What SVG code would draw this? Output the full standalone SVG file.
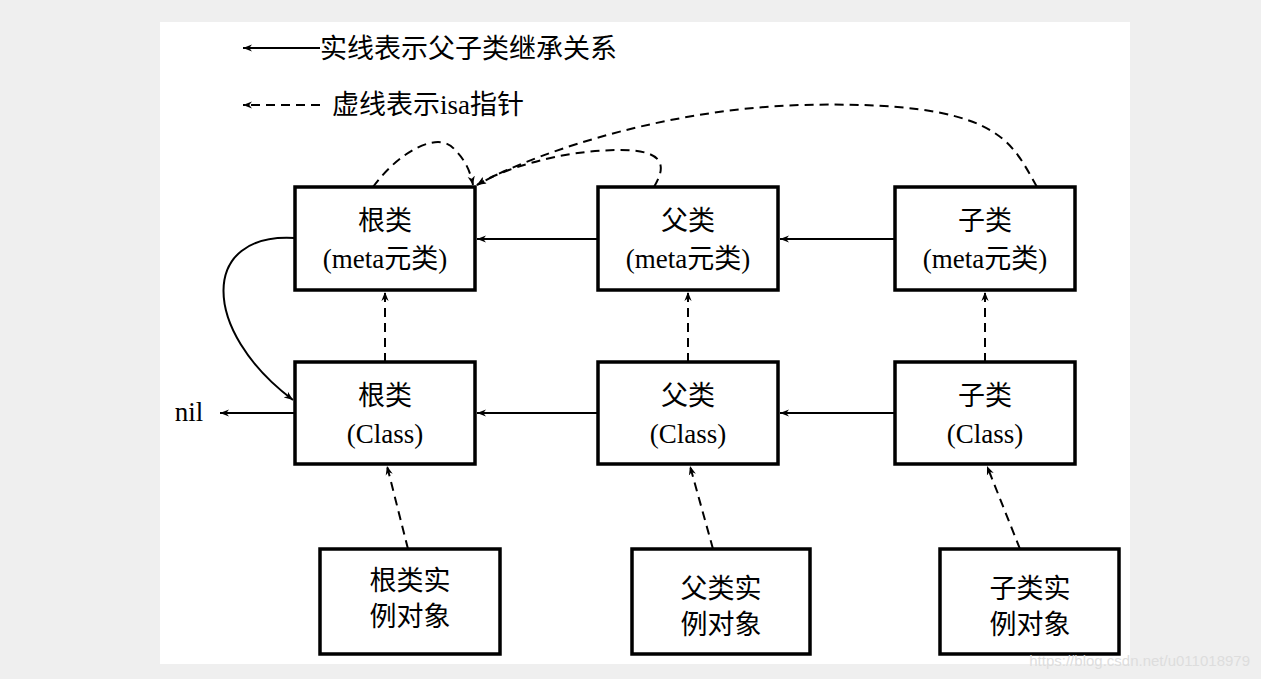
<svg xmlns="http://www.w3.org/2000/svg" width="1261" height="679" viewBox="0 0 1261 679">
<style>
.b{fill:#fff;stroke:#000;stroke-width:3.5}
.t{font-family:"Liberation Serif","Noto Sans CJK SC",serif;font-size:27px;text-anchor:middle;fill:#000}
.s{fill:none;stroke:#000;stroke-width:2;marker-end:url(#a)}
.d{fill:none;stroke:#000;stroke-width:2;stroke-dasharray:9,6;marker-end:url(#a)}
</style>
<defs><marker id="a" viewBox="0 0 10 10" refX="10" refY="5" markerWidth="9" markerHeight="9" orient="auto" markerUnits="userSpaceOnUse"><path d="M0,1 L10,5 L0,9 L3,5z" fill="#000"/></marker></defs>
<rect width="1261" height="679" fill="#efefef"/>
<rect x="160" y="22" width="970" height="642" fill="#fff"/>
<g id="legend">
<path class="s" d="M320,48 L243,48"/>
<text x="320" y="58" class="t" style="text-anchor:start">实线表示父子类继承关系</text>
<path class="d" d="M320,105 L243,105"/>
<text x="332" y="114" class="t" style="text-anchor:start">虚线表示isa指针</text>
</g>
<g id="rootMeta"><rect class="b" x="295" y="187" width="180" height="103"/><text class="t" x="385" y="230">根类</text><text class="t" x="385" y="268">(meta元类)</text></g>
<g id="parentMeta"><rect class="b" x="598" y="187" width="180" height="103"/><text class="t" x="688" y="230">父类</text><text class="t" x="688" y="268">(meta元类)</text></g>
<g id="childMeta"><rect class="b" x="895" y="187" width="180" height="103"/><text class="t" x="985" y="230">子类</text><text class="t" x="985" y="268">(meta元类)</text></g>
<g id="rootClass"><rect class="b" x="295" y="362" width="180" height="102"/><text class="t" x="385" y="405">根类</text><text class="t" x="385" y="443">(Class)</text></g>
<g id="parentClass"><rect class="b" x="598" y="362" width="180" height="102"/><text class="t" x="688" y="405">父类</text><text class="t" x="688" y="443">(Class)</text></g>
<g id="childClass"><rect class="b" x="895" y="362" width="180" height="102"/><text class="t" x="985" y="405">子类</text><text class="t" x="985" y="443">(Class)</text></g>
<g id="rootObj"><rect class="b" x="320" y="549" width="180" height="105"/><text class="t" x="410" y="590">根类实</text><text class="t" x="410" y="626">例对象</text></g>
<g id="parentObj"><rect class="b" x="632" y="549" width="178" height="105"/><text class="t" x="721" y="598">父类实</text><text class="t" x="721" y="634">例对象</text></g>
<g id="childObj"><rect class="b" x="940" y="549" width="179" height="105"/><text class="t" x="1030" y="598">子类实</text><text class="t" x="1030" y="634">例对象</text></g>
<text id="nil" class="t" x="189" y="421">nil</text>
<g id="connectors">
<path class="s" d="M598,239 L477,239"/>
<path class="s" d="M895,239 L780,239"/>
<path class="s" d="M598,413 L477,413"/>
<path class="s" d="M895,413 L780,413"/>
<path class="s" d="M295,413 L220,413"/>
<path class="s" d="M295,238 C200,232 200,330 293,400"/>
<path class="d" d="M385,362 L385,292"/>
<path class="d" d="M688,362 L688,292"/>
<path class="d" d="M985,362 L985,292"/>
<path class="d" d="M408,549 L387,466"/>
<path class="d" d="M713,549 L690,466"/>
<path class="d" d="M1020,549 L987,466"/>
<path class="d" d="M373,187 C400,150 440,130 455,150 C465,160 470,170 473,185"/>
<path class="d" d="M654,187 C664,170 670,150 620,150 C560,150 500,170 477,185"/>
<path class="d" d="M1037,187 C1010,140 1000,100 800,105 C650,110 520,160 477,185"/>
</g>
<text x="1250" y="666" style="font-family:'Liberation Sans',sans-serif;font-size:15px;text-anchor:end;fill:#ddd">https://blog.csdn.net/u011018979</text>
</svg>
